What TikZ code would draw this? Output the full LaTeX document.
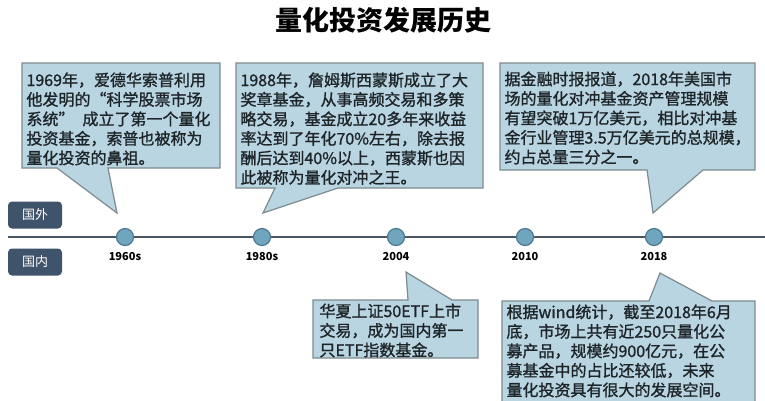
\documentclass[tikz,border=0pt]{standalone}
\usepackage{fontspec}
\setmainfont{Noto Sans CJK SC}
\newfontfamily\notefont{Noto Sans CJK SC}[FakeBold=1.2]
\usetikzlibrary{positioning}
\definecolor{bubblefill}{HTML}{B9D5E1}
\definecolor{bubbleline}{HTML}{7D8A90}
\definecolor{dotfill}{HTML}{6FA6BD}
\definecolor{dotline}{HTML}{4D7A92}
\definecolor{axisline}{HTML}{4A5661}
\definecolor{tagfill}{HTML}{3F536A}
\definecolor{notetext}{HTML}{1E2528}

\begin{document}
\begin{tikzpicture}[x=1pt, y=-1pt, line width=1pt,
  every node/.style={font=\fontsize{16}{19.5}\selectfont},
  bubble/.style={fill=bubblefill, draw=bubbleline, line width=1.2pt},
  note/.style={anchor=north west, inner sep=0pt, align=left, text=notetext,
    font=\notefont\fontsize{16}{19.5}\selectfont},
  tag/.style={fill=tagfill, rounded corners=4pt, minimum width=54pt, minimum height=27pt,
    inner sep=0pt, text=white, font=\fontsize{13}{15}\selectfont},
  milestone/.style={circle, fill=dotfill, draw=dotline, line width=1.2pt, minimum size=17pt, inner sep=0pt},
  year/.style={font=\bfseries\fontsize{11}{12}\selectfont, inner sep=0pt}]
      \useasboundingbox (0,0) rectangle (765,400);
      \clip (0,0) rectangle (765,400);
      % title
      \node[font=\bfseries\fontsize{27}{30}\selectfont] (title) at (383,20) {量化投资发展历史};
      % notes above the axis
      \draw[bubble] (22,63) -- (220,63) -- (220,168) -- (108,168) -- (117,213) -- (57,168) -- (22,168) -- cycle;
      \node[note] (n1960) at (26,72) {1969年，爱德华索普利用\\他发明的“科学股票市场\\系统”\hspace{0.5em}成立了第一个量化\\投资基金，索普也被称为\\量化投资的鼻祖。};
      \draw[bubble] (236,63) -- (483,63) -- (483,188) -- (338,188) -- (263,213) -- (275,188) -- (236,188) -- cycle;
      \node[note] (n1980) at (240,72) {1988年，詹姆斯西蒙斯成立了大\\奖章基金，从事高频交易和多策\\略交易，基金成立20多年来收益\\率达到了年化70\%左右，除去报\\酬后达到40\%以上，西蒙斯也因\\此被称为量化对冲之王。};
      \draw[bubble] (500,63) -- (755,63) -- (755,170) -- (703,170) -- (653,213) -- (647,170) -- (500,170) -- cycle;
      \node[note] (n2018a) at (504,71) {据金融时报报道，2018年美国市\\场的量化对冲基金资产管理规模\\有望突破1万亿美元，相比对冲基\\金行业管理3.5万亿美元的总规模，\\约占总量三分之一。};
      % axis
      \coordinate (axisL) at (8,237);
      \coordinate (axisR) at (765,237);
      \draw[axisline, line width=2.5pt] (axisL) -- (axisR);
      \node[tag] (abroad) at (35,215) {国外};
      \node[tag] (home) at (35,262) {国内};
      \node[milestone] (d1960) at (125,237) {};
      \node[milestone] (d1980) at (262,237) {};
      \node[milestone] (d2004) at (396,237) {};
      \node[milestone] (d2010) at (525,237) {};
      \node[milestone] (d2018) at (654,237) {};
      \node[year, below=6pt of d1960] (y1960) {1960s};
      \node[year, below=6pt of d1980] (y1980) {1980s};
      \node[year, below=6pt of d2004] (y2004) {2004};
      \node[year, below=6pt of d2010] (y2010) {2010};
      \node[year, below=6pt of d2018] (y2018) {2018};
      % notes below the axis
      \draw[bubble] (313,300) -- (408,300) -- (406,272) -- (452,300) -- (478,300) -- (478,358) -- (313,358) -- cycle;
      \node[note] (n2004) at (319,303) {华夏上证50ETF上市\\交易，成为国内第一\\只ETF指数基金。};
      \draw[bubble] (502,301) -- (649,301) -- (660,273) -- (712,301) -- (755,301) -- (755,406) -- (502,406) -- cycle;
      \node[note] (n2018b) at (506,304) {根据wind统计，截至2018年6月\\底，市场上共有近250只量化公\\募产品，规模约900亿元，在公\\募基金中的占比还较低，未来\\量化投资具有很大的发展空间。};
    \end{tikzpicture}
\end{document}
